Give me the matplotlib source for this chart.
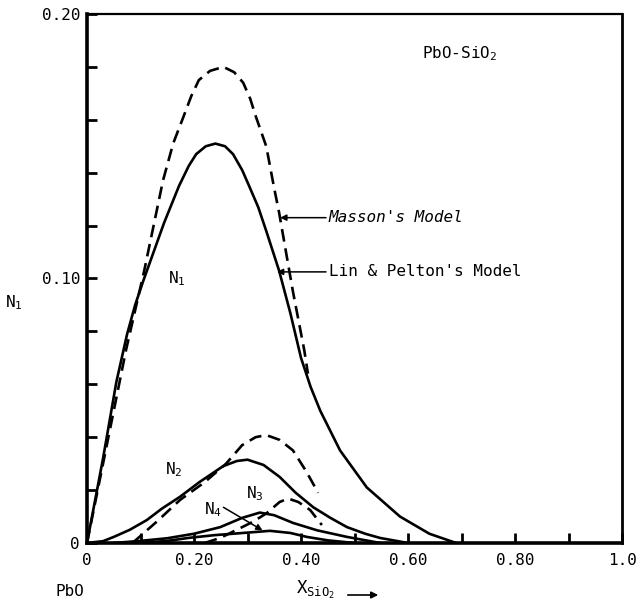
import matplotlib
matplotlib.use("Agg")
import matplotlib.pyplot as plt

plt.rcParams["font.family"] = ["DejaVu Sans Mono"]
plt.rcParams["mathtext.fontset"] = "custom"
plt.rcParams["mathtext.rm"] = "DejaVu Sans Mono"
plt.rcParams["mathtext.it"] = "DejaVu Sans Mono"
plt.rcParams["mathtext.default"] = "rm"

# N1, Lin & Pelton's model (solid)
n1_lp_x = [0, 0.03, 0.055, 0.075, 0.09, 0.105, 0.144, 0.172, 0.19, 0.204, 0.222, 0.24,
           0.258, 0.273, 0.29, 0.303, 0.32, 0.335, 0.359, 0.38, 0.4, 0.418, 0.436,
           0.473, 0.523, 0.585, 0.64, 0.69]
n1_lp_y = [0, 0.032, 0.061, 0.079, 0.090, 0.099, 0.121, 0.135, 0.1425, 0.147, 0.150,
           0.151, 0.150, 0.147, 0.141, 0.135, 0.127, 0.118, 0.103, 0.087, 0.070,
           0.059, 0.050, 0.035, 0.021, 0.010, 0.0035, 0]

# N1, Masson's model (dashed)
n1_m_x = [0, 0.073, 0.107, 0.142, 0.161, 0.18, 0.195, 0.209, 0.23, 0.255, 0.275,
          0.292, 0.305, 0.316, 0.335, 0.35, 0.359, 0.378, 0.385, 0.406, 0.413]
n1_m_y = [0, 0.073, 0.103, 0.137, 0.151, 0.161, 0.169, 0.175, 0.1785, 0.180, 0.178,
          0.174, 0.168, 0.161, 0.150, 0.134, 0.125, 0.103, 0.095, 0.073, 0.064]

# N2
n2_lp_x = [0, 0.03, 0.05, 0.08, 0.112, 0.14, 0.174, 0.21, 0.254, 0.28, 0.30, 0.33,
           0.36, 0.39, 0.423, 0.455, 0.486, 0.52, 0.548, 0.6]
n2_lp_y = [0, 0.0007, 0.0023, 0.005, 0.0087, 0.013, 0.0175, 0.023, 0.029, 0.031,
           0.0315, 0.0295, 0.025, 0.019, 0.0135, 0.0095, 0.006, 0.0035, 0.0019, 0]
n2_m_x = [0.085, 0.13, 0.174, 0.22, 0.26, 0.29, 0.315, 0.335, 0.36, 0.385, 0.41, 0.432]
n2_m_y = [0, 0.008, 0.0163, 0.023, 0.030, 0.037, 0.040, 0.0408, 0.039, 0.035, 0.027, 0.019]

# N3
n3_lp_x = [0.05, 0.1, 0.15, 0.2, 0.249, 0.29, 0.323, 0.35, 0.385, 0.43, 0.486, 0.548]
n3_lp_y = [0, 0.0008, 0.0018, 0.0035, 0.006, 0.0095, 0.0115, 0.0105, 0.0076, 0.0048,
           0.0023, 0]
n3_m_x = [0.22, 0.25, 0.28, 0.31, 0.336, 0.36, 0.376, 0.395, 0.417, 0.439]
n3_m_y = [0, 0.002, 0.005, 0.008, 0.0113, 0.0155, 0.0168, 0.0155, 0.0125, 0.0068]

# N4
n4_lp_x = [0.1, 0.15, 0.193, 0.24, 0.292, 0.342, 0.38, 0.411, 0.45, 0.50]
n4_lp_y = [0, 0.0008, 0.002, 0.003, 0.0038, 0.0046, 0.0038, 0.0023, 0.001, 0]

x_ticks = [0, 0.1, 0.2, 0.3, 0.4, 0.5, 0.6, 0.7, 0.8, 0.9, 1.0]
x_tick_labels = ["0", "", "0.20", "", "0.40", "", "0.60", "", "0.80", "", "1.0"]
y_ticks = [0, 0.02, 0.04, 0.06, 0.08, 0.10, 0.12, 0.14, 0.16, 0.18, 0.20]
y_tick_labels = ["0", "", "", "", "", "0.10", "", "", "", "", "0.20"]

fig = plt.figure(figsize=(6.37, 6.14), dpi=100)
ax = fig.add_axes([87 / 637, 1 - 543 / 614, 535 / 637, 529 / 614])

lw = 1.9
dash = (0, (4.8, 2.6))
solid_sets = [(n1_lp_x, n1_lp_y), (n2_lp_x, n2_lp_y), (n3_lp_x, n3_lp_y), (n4_lp_x, n4_lp_y)]
dashed_sets = [(n1_m_x, n1_m_y), (n2_m_x, n2_m_y), (n3_m_x, n3_m_y)]
for xs, ys in solid_sets:
    ax.plot(xs, ys, color="black", lw=lw, solid_joinstyle="round", solid_capstyle="round")
for xs, ys in dashed_sets:
    ax.plot(xs, ys, color="black", lw=lw, linestyle=dash)

ax.set_xlim(0, 1.0)
ax.set_ylim(0, 0.20)
ax.set_xticks(x_ticks)
ax.set_xticklabels(x_tick_labels)
ax.set_yticks(y_ticks)
ax.set_yticklabels(y_tick_labels)
ax.tick_params(direction="in", length=7, width=2, labelsize=11.5, color="black")
ax.tick_params(axis="x", pad=7)
ax.tick_params(axis="y", pad=5)
for side, w in [("left", 2.6), ("bottom", 2.6), ("top", 1.6), ("right", 2.0)]:
    ax.spines[side].set_linewidth(w)

fs = 11.5
ax.text(0.626, 0.185, "PbO-SiO$_2$", fontsize=fs, va="center", ha="left")
ax.text(0.167, 0.100, "N$_1$", fontsize=fs, ha="center", va="center")
ax.text(0.163, 0.0276, "N$_2$", fontsize=fs, ha="center", va="center")
ax.text(0.314, 0.0185, "N$_3$", fontsize=fs, ha="center", va="center")
ax.text(0.235, 0.0125, "N$_4$", fontsize=fs, ha="center", va="center")

arrow = dict(arrowstyle="-|>", color="black", lw=1.1, mutation_scale=9,
             shrinkA=0, shrinkB=0)
ax.annotate("Masson's Model", xy=(0.361, 0.123), xytext=(0.452, 0.123),
            fontsize=fs, va="center", ha="left", style="italic", arrowprops=arrow)
ax.annotate("Lin & Pelton's Model", xy=(0.355, 0.1025), xytext=(0.452, 0.1025),
            fontsize=fs, va="center", ha="left", arrowprops=arrow)
ax.annotate("", xy=(0.328, 0.0048), xytext=(0.255, 0.0135), arrowprops=arrow)

fig.text(14 / 637, 1 - 303 / 614, "N$_1$", fontsize=fs, ha="center", va="center")
fig.text(70 / 637, 1 - 592 / 614, "PbO", fontsize=fs, ha="center", va="center")
fig.text(296 / 637, 1 - 590 / 614, "X$_{\\mathregular{SiO_2}}$", fontsize=fs + 1,
         ha="left", va="center")
fig.patches.append(matplotlib.patches.FancyArrowPatch(
    (345 / 637, 1 - 595 / 614), (381 / 637, 1 - 595 / 614),
    transform=fig.transFigure, arrowstyle="-|>", mutation_scale=10,
    color="black", lw=1.2))

fig.savefig("out.png", dpi=100)
